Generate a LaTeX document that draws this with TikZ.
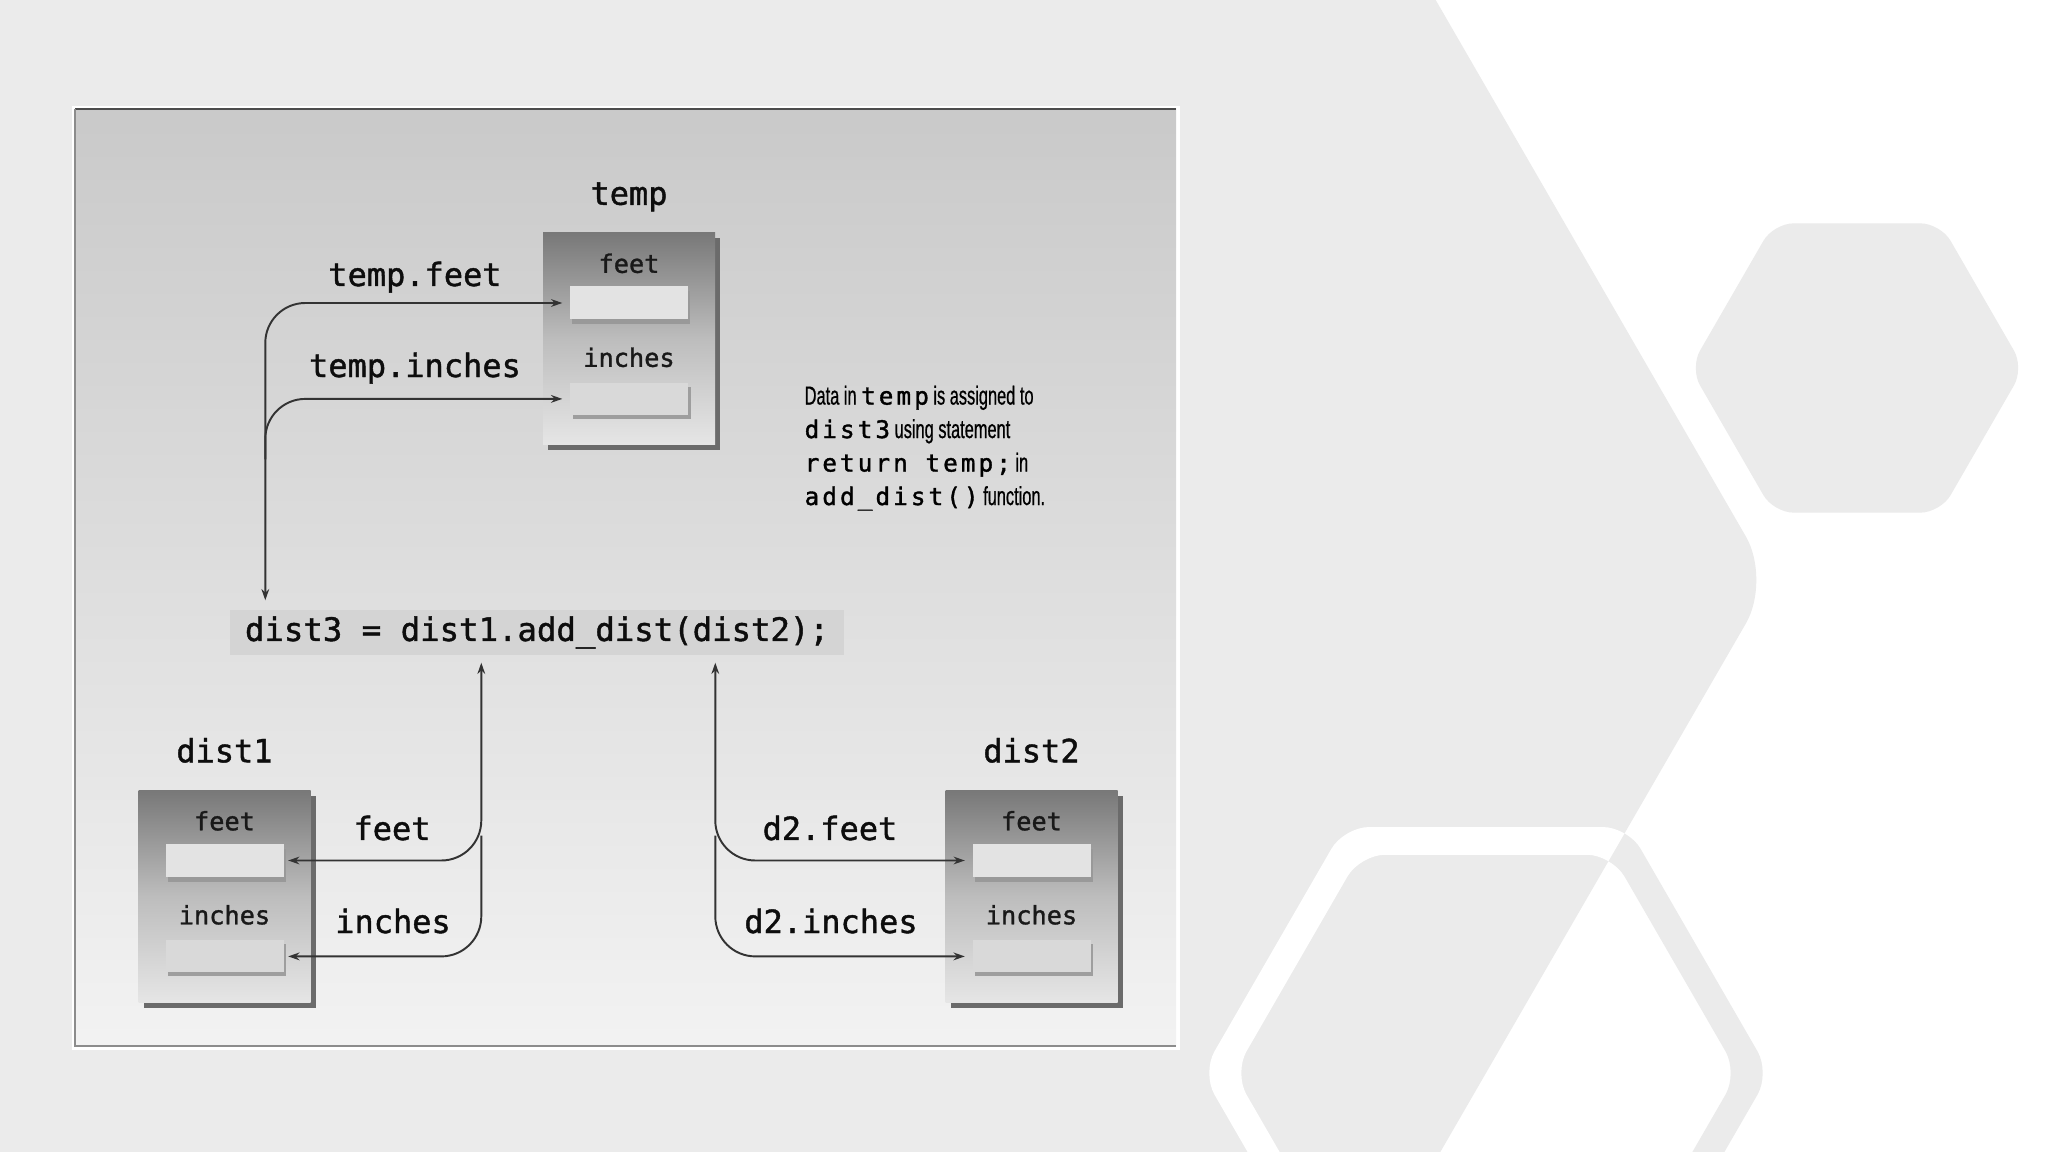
\documentclass[tikz,border=0pt]{standalone}
\usepackage{fontspec}
\setmonofont[FakeBold=1.3]{DejaVu Sans Mono}
\newfontfamily\condfont[FakeStretch=0.63,FakeBold=0.6]{Liberation Sans}
\newfontfamily\notemono[LetterSpace=13,Scale=0.93,FakeBold=1.5]{DejaVu Sans Mono}
\usepackage{tikz}
\usetikzlibrary{shadows}
\usetikzlibrary{positioning}
\usetikzlibrary{arrows.meta}
\usetikzlibrary{calc}

\tikzset{
  membox/.style={minimum width=1.72cm, minimum height=2.12cm, inner sep=0pt,
    top color=black!53, bottom color=black!10, middle color=black!26,
    drop shadow={shadow xshift=0.05cm, shadow yshift=-0.06cm, fill=black!58, opacity=1}},
  fullslot/.style={minimum width=1.18cm, minimum height=0.33cm, inner sep=0pt, fill=black!11,
    drop shadow={shadow xshift=0.02cm, shadow yshift=-0.045cm, fill=black!40, opacity=1}},
  emptyslot/.style={minimum width=1.18cm, minimum height=0.32cm, inner sep=0pt, fill=black!15,
    drop shadow={shadow xshift=0.025cm, shadow yshift=-0.04cm, fill=black!38, opacity=1}},
  boxlbl/.style={font=\ttfamily\fontsize{7.2}{8}\selectfont, text=black!90, inner sep=0pt},
  varlbl/.style={font=\ttfamily\fontsize{9.1}{11}\selectfont, text=black!95, inner sep=0pt},
  codebox/.style={fill=black!17, minimum width=6.14cm, minimum height=0.45cm, inner sep=0pt,
    font=\ttfamily\fontsize{9.2}{11}\selectfont, text=black!95},
  notebox/.style={align=left, inner sep=0pt, text=black,
    font=\condfont\fontsize{7.4}{9.53}\selectfont},
  conn/.style={draw=black!80, line width=0.55pt, rounded corners=0.4cm},
  dbl/.style={{Stealth[length=3.2pt,width=2.2pt]}-{Stealth[length=3.2pt,width=2.2pt]}},
  sgl/.style={-{Stealth[length=3.2pt,width=2.2pt]}}
}

\begin{document}
\begin{tikzpicture}
  \useasboundingbox (0,0) rectangle (20.48,-11.52);

  %background
  \fill[white] (0,0) rectangle (20.48,-11.52);
  \fill[black!8, rounded corners=0.5cm] (-1,0.6) -- (14.01,0.6) -- (17.71,-5.8) -- (14.01,-12.2) -- (-1,-12.2) -- cycle;
  \fill[black!8, rounded corners=0.2cm] (20.24,-3.68) -- ++(120:1.67) -- ++(180:1.67) -- ++(240:1.67) -- ++(300:1.67) -- ++(0:1.67) -- cycle;
  \fill[black!8, even odd rule, rounded corners=0.25cm]
     (17.70,-10.73) -- ++(120:2.84) -- ++(180:2.84) -- ++(240:2.84) -- ++(300:2.84) -- ++(0:2.84) -- cycle
     (17.38,-10.73) -- ++(120:2.52) -- ++(180:2.52) -- ++(240:2.52) -- ++(300:2.52) -- ++(0:2.52) -- cycle;
  \begin{scope}
    \clip[rounded corners=0.5cm] (-1,0.6) -- (14.01,0.6) -- (17.71,-5.8) -- (14.01,-12.2) -- (-1,-12.2) -- cycle;
    \fill[white, even odd rule, rounded corners=0.25cm]
       (17.70,-10.73) -- ++(120:2.84) -- ++(180:2.84) -- ++(240:2.84) -- ++(300:2.84) -- ++(0:2.84) -- cycle
       (17.38,-10.73) -- ++(120:2.52) -- ++(180:2.52) -- ++(240:2.52) -- ++(300:2.52) -- ++(0:2.52) -- cycle;
  \end{scope}

  %panel
  \fill[white] (0.72,-1.06) rectangle (11.80,-10.50);
  \shade[top color=black!21, bottom color=black!5] (0.75,-1.09) rectangle (11.76,-10.46);
  \draw[black!70, line width=0.6pt] (0.75,-1.09) -- (11.76,-1.09);
  \draw[black!45, line width=0.5pt] (0.75,-1.09) -- (0.75,-10.46) -- (11.76,-10.46);

  %objects
  \foreach \name/\x/\y/\lbl in {tmp/6.29/-3.385/temp, dA/2.245/-8.96/dist1, dB/10.315/-8.96/dist2} {
    \node[membox] (\name) at (\x,\y) {};
    \node[fullslot, below=0.54cm of \name.north] (\name-f) {};
    \node[emptyslot, below=0.62cm of \name-f] (\name-i) {};
    \node[boxlbl, anchor=base] (\name-ft) at ($(\name.north)+(0,-0.41)$) {feet};
    \node[boxlbl, anchor=base] (\name-in) at ($(\name.north)+(0,-1.35)$) {inches};
    \node[varlbl, anchor=base] (\name-lbl) at ($(\name.north)+(0,0.27)$) {\lbl};
  }

  %statement
  \node[codebox] (code) at (5.37,-6.325) {dist3 = dist1.add\_dist(dist2);};

  \node[notebox, anchor=north west] (note) at (8.04,-3.85)
    {Data in {\notemono temp} is assigned to\\
     {\notemono dist3} using statement\\
     {\notemono return temp;} in\\
     {\notemono add\_dist()} function.};

  %member labels
  \node[varlbl, anchor=base] (lTF) at (4.15,-2.86) {temp.feet};
  \node[varlbl, anchor=base] (lTI) at (4.15,-3.77) {temp.inches};
  \node[varlbl, anchor=base] (lAF) at (3.92,-8.40) {feet};
  \node[varlbl, anchor=base] (lAI) at (3.93,-9.33) {inches};
  \node[varlbl, anchor=base] (lBF) at (8.30,-8.40) {d2.feet};
  \node[varlbl, anchor=base] (lBI) at (8.31,-9.33) {d2.inches};

  %arrows
  \coordinate (tjoin) at ($(code.north west)+(0.36,0)$);
  \coordinate (ljoin) at ($(code.south west)+(2.52,0)$);
  \coordinate (rjoin) at ($(code.south west)+(4.86,0)$);

  \draw[conn, dbl, shorten <=0.09cm, shorten >=0.07cm] (tjoin) |- (tmp-f.west);
  \draw[conn, sgl, shorten >=0.07cm] ($(tjoin)+(0,1.5)$) |- (tmp-i.west);

  \draw[conn, dbl, shorten <=0.07cm, shorten >=0.04cm] (ljoin) |- (dA-f.east);
  \draw[conn, sgl, shorten >=0.04cm] ($(ljoin)+(0,-1.8)$) |- (dA-i.east);

  \draw[conn, dbl, shorten <=0.07cm, shorten >=0.07cm] (rjoin) |- (dB-f.west);
  \draw[conn, sgl, shorten >=0.07cm] ($(rjoin)+(0,-1.8)$) |- (dB-i.west);

\end{tikzpicture}
\end{document}
